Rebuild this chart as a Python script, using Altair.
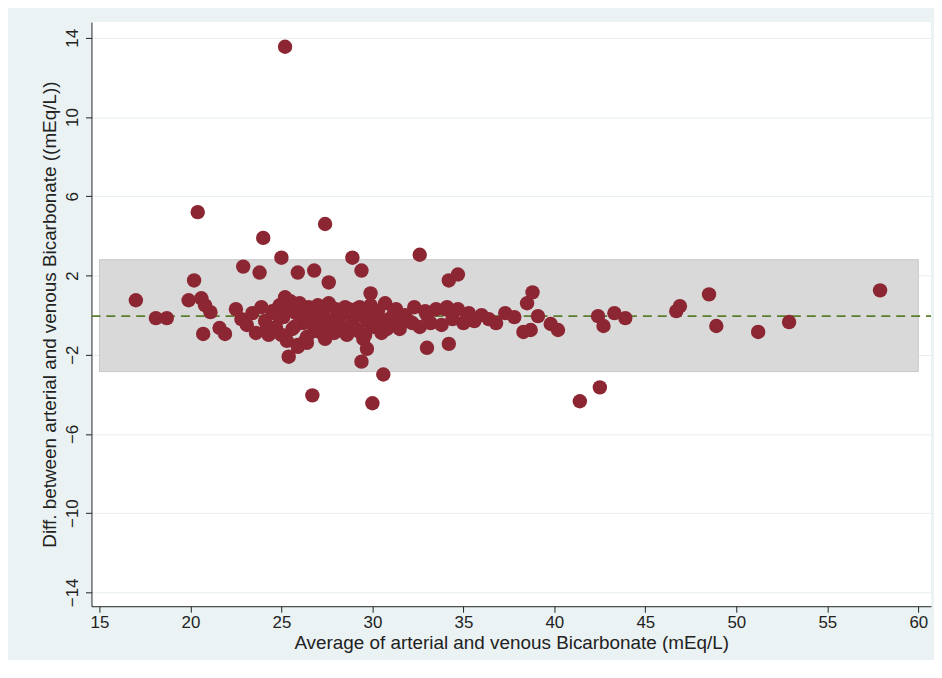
import altair as alt
import pandas as pd

# outlying / readable points
avg_out = [17.0, 18.1, 18.7, 19.9, 20.2, 20.4, 20.6, 20.8, 21.1, 20.7, 21.6, 21.9, 22.9, 23.8, 24.0,
           25.0, 25.2, 25.4, 25.9, 26.7, 26.8, 27.4, 27.6, 28.9, 29.4, 29.4, 29.7, 29.9, 30.0, 30.6,
           32.6, 33.0, 34.2, 34.2, 34.7, 38.5, 38.8, 38.3, 38.7, 39.1, 39.8, 40.2, 41.4, 42.4, 42.7,
           42.5, 43.3, 43.9, 46.7, 46.9, 48.5, 48.9, 51.2, 52.9, 57.9]
diff_out = [0.75, -0.15, -0.15, 0.75, 1.75, 5.2, 0.85, 0.5, 0.15, -0.95, -0.65, -0.95, 2.45, 2.15, 3.9,
            2.9, 13.55, -2.1, 2.15, -4.05, 2.25, 4.6, 1.65, 2.9, 2.25, -2.35, -1.7, 1.1, -4.45, -3.0,
            3.05, -1.65, -1.45, 1.75, 2.05, 0.6, 1.15, -0.85, -0.75, -0.05, -0.45, -0.75, -4.35, -0.05, -0.55,
            -3.65, 0.1, -0.15, 0.2, 0.45, 1.05, -0.55, -0.85, -0.35, 1.25]

# dense cluster (estimated)
avg_dense = [22.5, 22.8, 23.1, 23.4, 23.6, 23.9, 24.1, 24.3, 24.5, 24.7, 24.9, 25.1, 25.3, 25.5, 25.6,
             25.8, 25.9, 26.1, 26.2, 26.4, 26.5, 26.7, 26.8, 27.0, 27.1, 27.3, 27.4, 27.6, 27.7, 27.9,
             28.0, 28.2, 28.3, 28.5, 28.6, 28.8, 28.9, 29.1, 29.2, 29.4, 29.5, 29.7, 29.9, 30.1, 30.3,
             30.5, 30.7, 30.9, 31.1, 31.3, 31.5, 31.8, 32.0, 32.3, 32.6, 32.9, 33.2, 33.5, 33.8, 34.1,
             34.4, 34.7, 35.0, 35.3, 35.6, 36.0, 36.4, 36.8, 37.3, 37.8,
             24.2, 24.6, 25.0, 25.4, 25.7, 26.0, 26.3, 26.6, 26.9, 27.2, 27.5, 27.8, 28.1, 28.4, 28.7,
             29.0, 29.3, 29.6, 30.0, 30.4, 30.8, 31.2, 31.6, 32.2, 33.0, 34.0, 35.1, 25.2, 25.9, 26.4]
diff_dense = [0.3, -0.2, -0.5, 0.1, -0.9, 0.4, -0.3, -1.0, 0.2, -0.6, 0.5, -0.1, -1.3, 0.7, -0.7,
              0.1, -1.5, 0.3, -0.4, -1.1, 0.4, -0.2, -0.8, 0.5, -0.5, 0.0, -1.2, 0.6, -0.3, -0.9,
              0.3, -0.1, -0.6, 0.4, -1.0, 0.1, -0.4, 0.3, -0.8, 0.0, -1.2, -0.3, 0.5, -0.6, 0.2,
              -0.9, 0.6, -0.2, -0.5, 0.3, -0.7, 0.0, -0.3, 0.4, -0.6, 0.2, -0.4, 0.3, -0.5, 0.4,
              -0.2, 0.3, -0.4, 0.1, -0.3, 0.0, -0.2, -0.4, 0.1, -0.1,
              -0.7, 0.1, -1.0, 0.3, -0.6, 0.6, -1.3, -0.2, 0.2, -0.9, 0.5, -0.5, 0.2, -0.8, 0.3,
              -0.6, 0.4, -1.0, 0.1, -0.4, -0.7, 0.2, -0.2, -0.4, 0.0, 0.3, -0.3, 0.9, -1.6, -1.4]

band = pd.DataFrame({"x": [15], "x2": [60], "lo": [-2.85], "hi": [2.8]})
pts = pd.DataFrame({"avg": avg_out + avg_dense, "diff": diff_out + diff_dense})
mean_line = pd.DataFrame({"y": [-0.05]})

W, H = 845, 588
xs = alt.Scale(domain=[14.56, 60.7], nice=False, zero=False)
ys = alt.Scale(domain=[-14.7, 14.8], nice=False, zero=False)

rect = alt.Chart(band).mark_rect(color="#d9d9d9", stroke="#c8c8c8").encode(
    x=alt.X("x:Q", scale=xs,
            axis=alt.Axis(values=list(range(15, 61, 5)), title="Average of arterial and venous Bicarbonate (mEq/L)",
                          grid=False)),
    x2="x2:Q",
    y=alt.Y("lo:Q", scale=ys,
            axis=alt.Axis(values=list(range(-14, 15, 4)), title="Diff. between arterial and venous Bicarbonate ((mEq/L))",
                          labelAngle=270, labelAlign="center", labelBaseline="bottom", labelPadding=4,
                          grid=True, gridColor="#e6edef")),
    y2="hi:Q",
)

rule = alt.Chart(mean_line).mark_rule(color="#5b7d2c", strokeDash=[9, 6], strokeWidth=1.6).encode(
    y=alt.Y("y:Q", scale=ys), x=alt.value(0), x2=alt.value(W))

points = alt.Chart(pts).mark_circle(size=210, color="#8c2632", opacity=1).encode(
    x=alt.X("avg:Q", scale=xs), y=alt.Y("diff:Q", scale=ys))

chart = (
    alt.layer(rect, rule, points)
    .properties(width=W, height=H, background="#eaf2f3",
                padding={"left": 33, "top": 12, "right": 2, "bottom": 5})
    .configure_view(fill="white", stroke=None)
    .configure_axis(labelFont="Liberation Sans", titleFont="Liberation Sans", labelFontSize=17,
                    titleFontSize=19, titleFontWeight="normal", labelColor="#222", titleColor="#222",
                    domainColor="#222", tickColor="#222", tickSize=6)
)
chart.save("out.html", embed_options={"renderer": "svg", "actions": False})
